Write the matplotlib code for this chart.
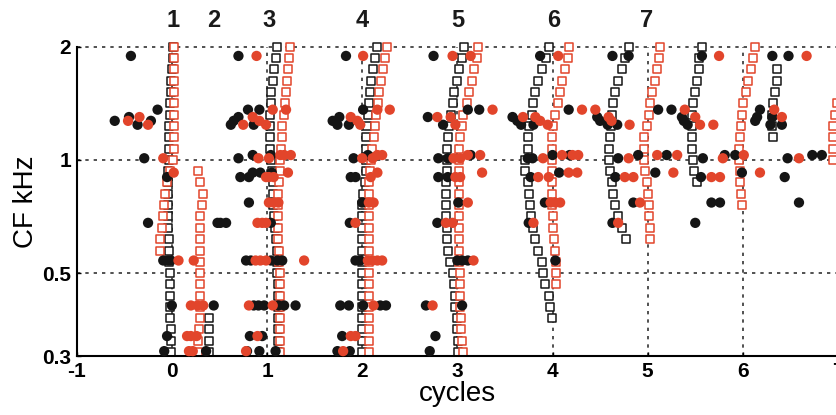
import matplotlib
matplotlib.use("Agg")
import matplotlib.pyplot as plt
import matplotlib.transforms as mtransforms

# channel CFs (kHz), 10 per octave from 2 kHz down
cf_channels = [2.000, 1.866, 1.741, 1.625, 1.516, 1.414, 1.320, 1.231, 1.149, 1.072,
               1.000, 0.933, 0.871, 0.812, 0.758, 0.707, 0.660, 0.616, 0.574, 0.536,
               0.500, 0.467, 0.435, 0.406, 0.379, 0.354, 0.330, 0.308]

# open squares: first channel index and the cycle position for each channel
sq_black_start = [0, 24, 0, 0, 0, 0, 0, 0, 2]
sq_black_x = [
    [0.01, 0.01, 0.0, -0.01, -0.01, -0.02, -0.02, -0.03, -0.03, -0.03, -0.03, -0.04, -0.04, -0.04,
     -0.04, -0.04, -0.04, -0.03, -0.03, -0.03, -0.02, -0.02, -0.02, -0.02, -0.02, -0.01, -0.01, -0.01],
    [0.39, 0.39, 0.39, 0.39],
    [1.11, 1.09, 1.07, 1.06, 1.04, 1.04, 1.03, 1.03, 1.03, 1.03, 1.04, 1.05, 1.06, 1.06,
     1.06, 1.07, 1.08, 1.09, 1.10, 1.11, 1.11, 1.12, 1.12, 1.12, 1.12, 1.12, 1.12, 1.12],
    [2.16, 2.13, 2.11, 2.09, 2.08, 2.07, 2.06, 2.05, 2.04, 2.04, 2.04, 2.04, 2.03, 2.01,
     2.0, 2.0, 2.0, 2.0, 2.0, 2.0, 2.0, 2.0, 2.0, 2.0, 2.0, 2.0, 2.0, 2.0],
    [3.07, 3.05, 3.02, 3.00, 2.97, 2.95, 2.93, 2.91, 2.90, 2.89, 2.89, 2.89, 2.88, 2.88,
     2.88, 2.88, 2.89, 2.89, 2.90, 2.92, 2.95, 2.96, 2.98, 2.98, 3.00, 3.00, 3.01, 3.01],
    [3.96, 3.93, 3.89, 3.85, 3.82, 3.80, 3.78, 3.75, 3.74, 3.74, 3.71, 3.71, 3.74, 3.75,
     3.76, 3.77, 3.80, 3.82, 3.85, 3.89, 3.90, 3.92, 3.96, 3.97, 3.99],
    [4.80, 4.76, 4.73, 4.69, 4.66, 4.64, 4.62, 4.61, 4.60, 4.59, 4.59, 4.60, 4.63, 4.64,
     4.66, 4.69, 4.73, 4.77],
    [5.57, 5.54, 5.54, 5.52, 5.50, 5.48, 5.47, 5.47, 5.47, 5.47, 5.48, 5.49, 5.52],
    [6.36, 6.36, 6.34, 6.32, 6.31, 6.31, 6.32],
]
sq_red_start = [0, 11, 0, 0, 0, 0, 0, 0, 5]
sq_red_x = [
    [0.02, 0.02, 0.02, 0.02, 0.02, 0.02, 0.02, 0.02, 0.02, 0.02, 0.01, -0.02, -0.05, -0.07,
     -0.08, -0.09, -0.10, -0.12, -0.12],
    [0.27, 0.30, 0.33, 0.32, 0.30, 0.30, 0.30, 0.30, 0.30, 0.30, 0.30, 0.30, 0.30, 0.30,
     0.29, 0.28, 0.28],
    [1.24, 1.23, 1.22, 1.21, 1.20, 1.19, 1.18, 1.16, 1.16, 1.15, 1.14, 1.14, 1.13, 1.12,
     1.12, 1.12, 1.12, 1.12, 1.13, 1.13, 1.14, 1.14, 1.14, 1.14, 1.14, 1.14, 1.14, 1.14],
    [2.26, 2.24, 2.22, 2.20, 2.18, 2.17, 2.15, 2.13, 2.12, 2.10, 2.09, 2.08, 2.07, 2.07,
     2.07, 2.07, 2.07, 2.07, 2.07, 2.07, 2.07, 2.07, 2.07, 2.07, 2.07, 2.07, 2.07, 2.07],
    [3.22, 3.21, 3.17, 3.15, 3.12, 3.10, 3.06, 3.05, 3.03, 3.02, 3.02, 3.02, 3.02, 3.02,
     3.02, 3.02, 3.02, 3.02, 3.02, 3.02, 3.03, 3.03, 3.03, 3.03, 3.04, 3.04, 3.05, 3.06],
    [4.17, 4.16, 4.13, 4.10, 4.08, 4.06, 4.03, 4.01, 3.99, 3.99, 3.99, 3.99, 3.99, 3.99,
     3.99, 4.00, 4.01, 4.02, 4.03, 4.04, 4.04, 4.04],
    [5.13, 5.12, 5.10, 5.08, 5.05, 5.02, 5.01, 4.99, 4.96, 4.96, 4.96, 4.97, 4.99, 5.00,
     5.01, 5.01, 5.02, 5.02],
    [6.13, 6.11, 6.09, 6.05, 6.03, 6.00, 5.99, 5.98, 5.97, 5.96, 5.96, 5.97, 5.97, 5.98, 5.99],
    [6.99, 6.97, 6.95, 6.95, 6.95, 6.95],
]

# filled dots: CF of each row and cycle positions
dot_cf = [1.89, 1.36, 1.30, 1.27, 1.24, 1.03, 1.01, 0.925, 0.90, 0.77, 0.68, 0.54, 0.41, 0.34, 0.31]
black_dot_x = [
    [-0.43, 0.70, 1.83, 2.75, 3.87, 4.63, 4.80, 5.57, 6.31, 6.48],
    [-0.15, 0.80, 0.92, 2.01, 3.11, 3.23, 4.17, 5.11, 5.25, 6.18],
    [-0.45, 0.70, 1.76, 2.69, 3.58, 4.47, 5.36, 6.15, 6.31],
    [-0.60, -0.22, 0.65, 1.69, 3.63, 4.50, 5.38, 6.13],
    [-0.36, 0.62, 0.86, 1.74, 1.86, 2.85, 3.67, 3.80, 4.58, 4.68, 5.42, 6.29, 6.41],
    [0.85, 1.04, 2.06, 3.14, 4.00, 4.18, 4.90, 5.20, 5.81, 5.92, 6.73, 6.83],
    [-0.29, 0.70, 1.91, 2.80, 2.90, 3.74, 3.79, 4.69, 5.58, 6.47],
    [0.85, 0.93, 1.05, 4.07, 5.08, 5.99],
    [-0.05, 0.72, 0.81, 1.88, 1.93, 2.80, 2.90, 3.77, 4.66, 5.56, 6.44],
    [0.81, 2.00, 3.01, 3.92, 4.85, 5.67, 5.76, 6.59],
    [-0.25, 0.48, 0.51, 0.57, 1.04, 1.87, 2.79, 3.75, 4.63, 5.50],
    [-0.09, -0.04, -0.01, 0.78, 0.83, 1.04, 1.11, 1.16, 1.93, 1.98, 3.00, 3.05, 3.11, 4.03],
    [0.0, 0.44, 0.86, 0.91, 0.97, 1.12, 1.18, 1.30, 1.77, 1.86, 2.01, 2.19, 2.25, 2.67, 3.05],
    [-0.05, 0.82, 0.95, 1.79, 2.77],
    [-0.08, 0.36, 0.79, 0.92, 1.09, 1.74, 1.87, 2.71],
]
red_dot_x = [
    [0.89, 2.01, 2.95, 3.14, 4.06, 5.75, 6.67],
    [1.06, 1.20, 2.16, 2.29, 3.37, 4.31, 4.45, 5.39, 6.33],
    [-0.34, 0.85, 1.88, 2.79, 2.93, 3.69, 3.82, 4.59, 5.50, 6.41],
    [-0.46, 0.92, 1.95, 3.87, 4.62],
    [-0.25, 0.75, 0.99, 1.98, 2.98, 3.95, 4.81, 5.55, 5.69],
    [1.14, 1.18, 1.25, 2.16, 2.21, 3.11, 3.24, 4.10, 4.21, 4.27, 5.10, 5.31, 6.01],
    [-0.09, 0.91, 1.02, 2.00, 2.11, 2.96, 3.03, 3.90, 4.80, 5.79, 6.59],
    [0.02, 1.22, 2.16, 3.26, 4.17, 4.26, 5.27, 6.18],
    [0.99, 1.02, 1.07, 2.09, 2.98, 3.03, 3.85, 3.96, 4.76, 4.85, 5.67, 5.76],
    [1.02, 1.07, 1.12, 2.07, 2.12, 3.11, 3.98, 4.03, 4.08, 4.92],
    [0.90, 0.95, 0.99, 1.93, 2.88, 2.95, 3.80, 4.69],
    [0.07, 0.23, 0.88, 0.93, 0.99, 1.39, 2.06, 2.11, 2.16, 2.21, 3.17],
    [0.20, 0.27, 0.33, 0.81, 1.06, 2.12, 2.74],
    [0.16, 0.20, 0.26, 0.90, 1.88, 1.93],
    [0.18, 0.22, 0.78, 1.80],
]

peak_labels = ['1', '2', '3', '4', '5', '6', '7']
peak_label_x = [0.01, 0.44, 1.02, 2.0, 3.0, 4.01, 4.99]

x_ticks = [-1, 0, 1, 2, 3, 4, 5, 6, 7]
y_ticks = [0.3, 0.5, 1, 2]
y_tick_labels = ['0.3', '0.5', '1', '2']

RED = '#e2452b'
BLACK = '#151515'
FONT = ['Liberation Sans Narrow', 'Liberation Sans', 'DejaVu Sans']

plt.rcParams['font.family'] = FONT

fig = plt.figure(figsize=(8.37, 4.15), dpi=100)
ax = fig.add_axes([0.0916, 0.141, 0.9096, 0.7465])
ax.set_yscale('log')
ax.set_xlim(-1, 7)
ax.set_ylim(0.3, 2)

# dotted grid
for yv in [0.5, 1, 2]:
    ax.axhline(yv, color='#333333', ls=(0, (2, 3)), lw=1.2, zorder=1, clip_on=False)
for xv in range(0, 7):
    ax.axvline(xv, color='#333333', ls=(0, (2, 3)), lw=1.2, zorder=1)

# open squares
for start, xs in zip(sq_black_start, sq_black_x):
    ax.scatter(xs, cf_channels[start:start + len(xs)], marker='s', s=30,
               facecolors='white', edgecolors=BLACK, linewidths=1.1, zorder=2, clip_on=False)
for start, xs in zip(sq_red_start, sq_red_x):
    ax.scatter(xs, cf_channels[start:start + len(xs)], marker='s', s=30,
               facecolors='white', edgecolors=RED, linewidths=1.1, zorder=2, clip_on=False)

# filled dots
for cf, bx, rx in zip(dot_cf, black_dot_x, red_dot_x):
    ax.scatter(bx, [cf] * len(bx), s=55, color=BLACK, edgecolors='none', zorder=3, clip_on=False)
    ax.scatter(rx, [cf] * len(rx), s=55, color=RED, edgecolors='none', zorder=4, clip_on=False)

trans = mtransforms.blended_transform_factory(ax.transData, ax.transAxes)
for lab, xv in zip(peak_labels, peak_label_x):
    ax.text(xv, 1.086, lab, transform=trans, ha='center', va='center',
            fontsize=17, fontweight='bold', color='#1a1a1a')

ax.spines['top'].set_visible(False)
ax.spines['right'].set_visible(False)
ax.spines['left'].set_linewidth(1.5)
ax.spines['bottom'].set_linewidth(1.5)

ax.set_xticks(x_ticks)
ax.set_xticklabels([str(v) for v in x_ticks])
ax.set_yticks(y_ticks)
ax.set_yticklabels(y_tick_labels)
ax.minorticks_off()
ax.tick_params(direction='in', length=3, width=1, labelsize=15, pad=4)
for lab in ax.get_xticklabels() + ax.get_yticklabels():
    lab.set_fontweight('bold')

ax.set_xlabel('cycles', fontsize=20, labelpad=0)
ax.set_ylabel('CF kHz', fontsize=20, labelpad=2)

fig.savefig('out.png', dpi=100)
